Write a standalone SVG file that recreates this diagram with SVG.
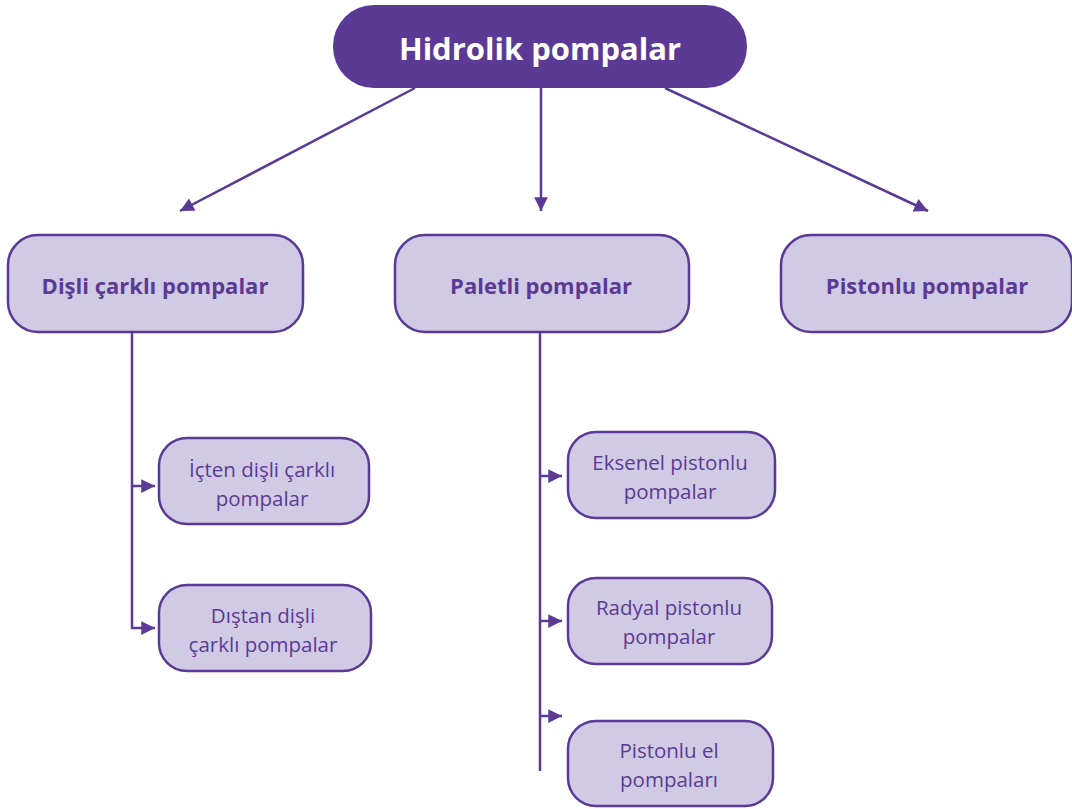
<svg xmlns="http://www.w3.org/2000/svg" width="1072" height="809" viewBox="0 0 1072 809">
<style>
.top{fill:#5B3A96}
.n{fill:#D1CAE4;stroke:#5B3A96;stroke-width:2.5}
.tt{font-family:"Open Sans","Liberation Sans",sans-serif;font-weight:bold;font-size:31px;fill:#fff;text-anchor:middle}
.t2{font-family:"Open Sans","Liberation Sans",sans-serif;font-weight:bold;font-size:22px;fill:#5B3A96;text-anchor:middle}
.t3{font-family:"Open Sans","Liberation Sans",sans-serif;font-size:20.5px;fill:#5B3A96;text-anchor:middle}
.c{stroke:#5B3A96;stroke-width:2.5;fill:none}
</style>
<defs>
<marker id="ah" viewBox="0 0 10 10" refX="10" refY="5" markerWidth="6.5" markerHeight="5.5" orient="auto" markerUnits="strokeWidth">
<path d="M0,0 L10,5 L0,10 Z" fill="#5B3A96"/>
</marker>
</defs>
<g id="connectors">
<line class="c" x1="415" y1="88" x2="180" y2="211" marker-end="url(#ah)"/>
<line class="c" x1="541" y1="88" x2="541" y2="211" marker-end="url(#ah)"/>
<line class="c" x1="665" y1="88" x2="928" y2="211" marker-end="url(#ah)"/>
<path class="c" d="M132,332 V628 H155" marker-end="url(#ah)"/>
<line class="c" x1="132" y1="486" x2="155" y2="486" marker-end="url(#ah)"/>
<line class="c" x1="540" y1="332" x2="540" y2="771"/>
<line class="c" x1="540" y1="476" x2="562" y2="476" marker-end="url(#ah)"/>
<line class="c" x1="540" y1="621" x2="562" y2="621" marker-end="url(#ah)"/>
<line class="c" x1="540" y1="716" x2="562" y2="716" marker-end="url(#ah)"/>
</g>
<g id="hidrolik">
<rect class="top" x="333" y="5" width="414" height="83" rx="41"/>
<text class="tt" x="540" y="60">Hidrolik pompalar</text>
</g>
<g id="disli">
<rect class="n" x="8" y="235" width="295" height="97" rx="30"/>
<text class="t2" x="155" y="294">Dişli çarklı pompalar</text>
</g>
<g id="paletli">
<rect class="n" x="395" y="235" width="294" height="97" rx="30"/>
<text class="t2" x="541" y="294">Paletli pompalar</text>
</g>
<g id="pistonlu">
<rect class="n" x="781" y="235" width="291" height="97" rx="30"/>
<text class="t2" x="927" y="294">Pistonlu pompalar</text>
</g>
<g id="icten">
<rect class="n" x="159" y="438" width="210" height="86" rx="28"/>
<text class="t3" x="262" y="477">İçten dişli çarklı</text>
<text class="t3" x="262" y="506">pompalar</text>
</g>
<g id="distan">
<rect class="n" x="159" y="585" width="212" height="86" rx="28"/>
<text class="t3" x="263" y="623">Dıştan dişli</text>
<text class="t3" x="263" y="652">çarklı pompalar</text>
</g>
<g id="eksenel">
<rect class="n" x="568" y="432" width="207" height="86" rx="28"/>
<text class="t3" x="670" y="470">Eksenel pistonlu</text>
<text class="t3" x="670" y="499">pompalar</text>
</g>
<g id="radyal">
<rect class="n" x="568" y="578" width="204" height="86" rx="28"/>
<text class="t3" x="669" y="615">Radyal pistonlu</text>
<text class="t3" x="669" y="644">pompalar</text>
</g>
<g id="el">
<rect class="n" x="568" y="721" width="205" height="85" rx="28"/>
<text class="t3" x="669" y="758">Pistonlu el</text>
<text class="t3" x="669" y="787">pompaları</text>
</g>
</svg>
